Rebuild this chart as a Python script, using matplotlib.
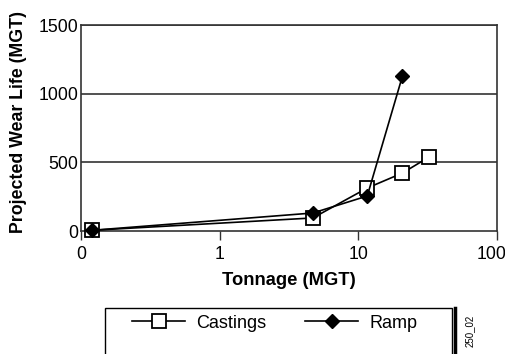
import matplotlib
matplotlib.use("Agg")
import matplotlib.pyplot as plt
import matplotlib.transforms as mtransforms
from matplotlib.patches import Rectangle
from matplotlib.lines import Line2D

plt.rcParams["font.family"] = ["Liberation Sans", "DejaVu Sans"]

# data
castings_x = [0.12, 4.7, 11.6, 20.8, 32.4]
castings_y = [5, 95, 313, 422, 539]
ramp_x = [0.12, 4.7, 11.6, 20.8]
ramp_y = [5, 131, 255, 1128]

xticks = [0.1, 1, 10, 100]
xtick_labels = ["0", "1", "10", "100"]
yticks = [0, 500, 1000, 1500]

W, H = 505, 354
fig = plt.figure(figsize=(W / 100, H / 100), dpi=100)
ax = fig.add_axes([81 / W, 1 - 231 / H, (497 - 81) / W, (231 - 25) / H])

frame_col = "#333333"
ax.set_xscale("log")
ax.set_xlim(0.1, 100)
ax.set_ylim(0, 1500)
ax.set_xticks(xticks)
ax.set_xticklabels(xtick_labels)
ax.minorticks_off()
ax.set_yticks(yticks)
for y in yticks[1:]:
    ax.axhline(y, color=frame_col, lw=1.2, zorder=1)
for s in ax.spines.values():
    s.set_color(frame_col)
    s.set_linewidth(1.2)
ax.tick_params(axis="x", labelsize=12.7, color=frame_col, width=1.0, length=6.5, pad=4)
ax.tick_params(axis="y", labelsize=12.7, length=0, pad=2)

# keep the "100" label inside the figure edge
lbl = ax.get_xticklabels()[-1]
lbl.set_transform(lbl.get_transform() + mtransforms.ScaledTranslation(-4 / 72, 0, fig.dpi_scale_trans))

ax.plot(castings_x, castings_y, color="black", lw=1.2, marker="s", ms=9.5,
        mfc="white", mec="black", mew=1.3, clip_on=False, zorder=3, label="Castings")
ax.plot(ramp_x, ramp_y, color="black", lw=1.2, marker="D", ms=7,
        mfc="black", mec="black", clip_on=False, zorder=4, label="Ramp")

ax.set_xlabel("Tonnage (MGT)", fontsize=13.2, fontweight="bold", labelpad=7)
ax.set_ylabel("Projected Wear Life (MGT)", fontsize=12.8, fontweight="bold")
ax.yaxis.set_label_coords(-0.13, 0.527)

# legend box (cut off by figure bottom)
fig.patches.append(Rectangle((105 / W, -0.05), (452 - 105) / W, 0.05 + 1 - 308 / H,
                             transform=fig.transFigure, fill=False, ec="black", lw=1.0))
fig.legend(loc="center left", bbox_to_anchor=(132 / W, 1 - 323 / H), ncol=2,
           frameon=False, fontsize=13, handlelength=2.95, handletextpad=0.6,
           columnspacing=2.15, borderpad=0, borderaxespad=0)

fig.lines.append(Line2D([455 / W, 455 / W], [1 - 308 / H, 0],
                        transform=fig.transFigure, color="black", lw=2.5))
fig.text(470 / W, 1 - 331 / H, "250_02", rotation=90, fontsize=7,
         ha="center", va="center")

fig.savefig("out.png", dpi=100)
